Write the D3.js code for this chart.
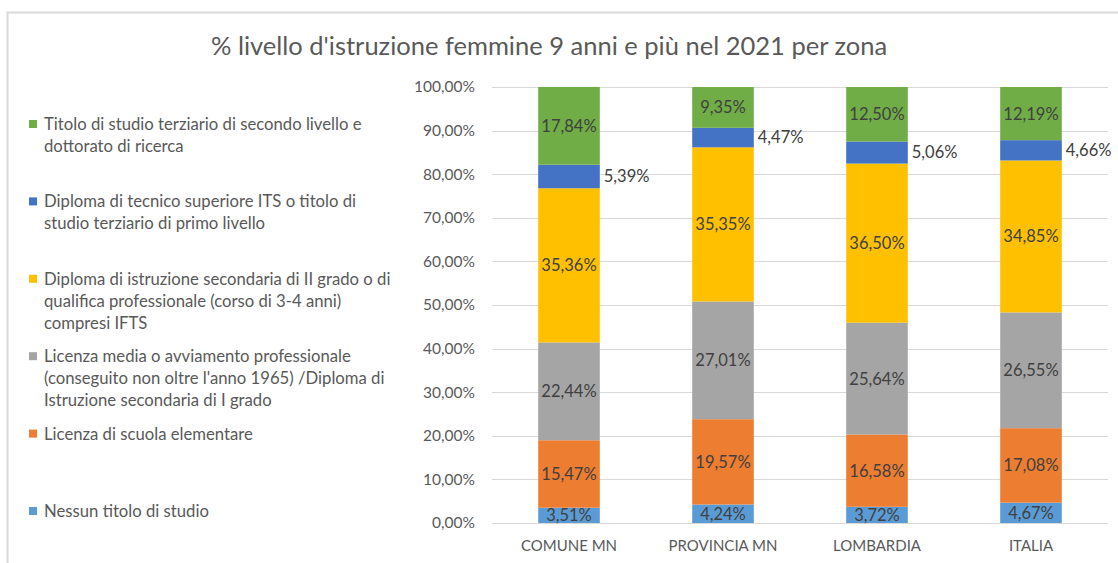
<!DOCTYPE html>
<html>
<head>
<meta charset="utf-8">
<script src="https://cdn.jsdelivr.net/npm/d3@7"></script>
<style>
  html, body { margin: 0; padding: 0; background: #fff; }
  svg { display: block; font-family: Lato, "Open Sans", sans-serif; }
</style>
</head>
<body>
<svg id="chart" width="1118" height="563"></svg>
<script>
// Zones compared
const categories = ["COMUNE MN", "PROVINCIA MN", "LOMBARDIA", "ITALIA"];

// Education levels, bottom to top of each stack
const seriesNames = [
  "Nessun titolo di studio",
  "Licenza di scuola elementare",
  "Licenza media o avviamento professionale (conseguito non oltre l'anno 1965) /Diploma di Istruzione secondaria di I grado",
  "Diploma di istruzione secondaria di II grado o di qualifica professionale (corso di 3-4 anni) compresi IFTS",
  "Diploma di tecnico superiore ITS o titolo di studio terziario di primo livello",
  "Titolo di studio terziario di secondo livello e dottorato di ricerca"
];

// Legend text, wrapped as shown (top entry first)
const legendLines = [
  ["Titolo di studio terziario di secondo livello e", "dottorato di ricerca"],
  ["Diploma di tecnico superiore ITS o titolo di", "studio terziario di primo livello"],
  ["Diploma di istruzione secondaria di II grado o di", "qualifica professionale (corso di 3-4 anni)", "compresi IFTS"],
  ["Licenza media o avviamento professionale", "(conseguito non oltre l'anno 1965) /Diploma di", "Istruzione secondaria di I grado"],
  ["Licenza di scuola elementare"],
  ["Nessun titolo di studio"]
];

// Percent shares per zone, one array per education level
const nessunTitolo   = [3.51, 4.24, 3.72, 4.67];
const elementare     = [15.47, 19.57, 16.58, 17.08];
const media          = [22.44, 27.01, 25.64, 26.55];
const secondaria     = [35.36, 35.35, 36.50, 34.85];
const terziarioPrimo = [5.39, 4.47, 5.06, 4.66];
const terziarioSec   = [17.84, 9.35, 12.50, 12.19];

const yTicks = [0, 10, 20, 30, 40, 50, 60, 70, 80, 90, 100];

const seriesValues = [nessunTitolo, elementare, media, secondaria, terziarioPrimo, terziarioSec];
const colors = ["#5B9BD5", "#ED7D31", "#A5A5A5", "#FFC000", "#4472C4", "#70AD47"];

const svg = d3.select("#chart");
const W = 1118, H = 563;
const plot = { left: 492, right: 1108, top: 87, bottom: 523 };

const fmt = v => d3.format(".2f")(v).replace(".", ",");

// Outer chart frame
svg.append("rect")
  .attr("x", 7.5).attr("y", 12.5)
  .attr("width", W + 20).attr("height", H + 20)
  .attr("fill", "none").attr("stroke", "#d9d9d9").attr("stroke-width", 2);

// Title
svg.append("text")
  .attr("x", 549).attr("y", 55)
  .attr("text-anchor", "middle")
  .attr("fill", "#595959")
  .attr("font-size", 25.5)
  .text("% livello d'istruzione femmine 9 anni e più nel 2021 per zona");

const x = d3.scaleBand()
  .domain(categories)
  .range([plot.left, plot.right])
  .paddingInner(0.6)
  .paddingOuter(0.3);

const y = d3.scaleLinear().domain([0, 100]).range([plot.bottom, plot.top]);

// Gridlines
svg.append("g")
  .selectAll("line")
  .data(yTicks)
  .join("line")
  .attr("x1", plot.left).attr("x2", plot.right)
  .attr("y1", d => Math.round(y(d)) + 0.5).attr("y2", d => Math.round(y(d)) + 0.5)
  .attr("stroke", "#d9d9d9").attr("stroke-width", 1);

// Y axis (labels only)
const yAxis = d3.axisLeft(y)
  .tickValues(yTicks)
  .tickSize(0)
  .tickPadding(0)
  .tickFormat(d => fmt(d) + "%");
const gy = svg.append("g")
  .attr("transform", `translate(${475},0)`)
  .call(yAxis);
gy.select(".domain").remove();
gy.selectAll("text")
  .attr("fill", "#595959")
  .attr("font-size", 15.5)
  .attr("font-family", "Lato, sans-serif");

// X axis (labels only)
const xAxis = d3.axisBottom(x).tickSize(0).tickPadding(0);
const gx = svg.append("g")
  .attr("transform", `translate(0,${540})`)
  .call(xAxis);
gx.select(".domain").remove();
gx.selectAll("text")
  .attr("fill", "#595959")
  .attr("font-size", 15)
  .attr("font-family", "Lato, sans-serif");

// Stack the series
const rows = categories.map((c, i) => {
  const r = { cat: c };
  seriesValues.forEach((s, k) => { r["s" + k] = s[i]; });
  return r;
});
const stack = d3.stack().keys(seriesValues.map((_, k) => "s" + k));
const stacked = stack(rows);

const layers = svg.append("g")
  .selectAll("g")
  .data(stacked)
  .join("g")
  .attr("fill", (d, k) => colors[k]);

layers.selectAll("rect")
  .data(d => d)
  .join("rect")
  .attr("x", d => x(d.data.cat))
  .attr("width", x.bandwidth())
  .attr("y", d => y(d[1]))
  .attr("height", d => y(d[0]) - y(d[1]));

// Value labels: inside the bar, except the thin ITS layer which sits to the right
const labels = svg.append("g")
  .attr("font-size", 16.5)
  .attr("fill", "#404040");
stacked.forEach((layer, k) => {
  const outside = k === 4;
  labels.selectAll(null)
    .data(layer)
    .join("text")
    .attr("x", d => outside ? x(d.data.cat) + x.bandwidth() + 4 : x(d.data.cat) + x.bandwidth() / 2)
    .attr("y", d => y((d[0] + d[1]) / 2))
    .attr("dy", "0.36em")
    .attr("text-anchor", outside ? "start" : "middle")
    .text(d => fmt(d.data["s" + k]) + "%");
});

// Legend, top entry first, equally spaced slots
const legendColors = colors.slice().reverse();
const legend = svg.append("g");
legendLines.forEach((lines, i) => {
  const cy = 124 + i * 77.4;
  legend.append("rect")
    .attr("x", 29).attr("y", cy - 4)
    .attr("width", 8).attr("height", 8)
    .attr("fill", legendColors[i]);
  const t = legend.append("text")
    .attr("x", 44).attr("y", cy)
    .attr("fill", "#595959")
    .attr("font-size", 16.7);
  lines.forEach((ln, j) => {
    t.append("tspan")
      .attr("x", 44)
      .attr("y", cy + j * 22)
      .attr("dy", "0.36em")
      .text(ln);
  });
});
</script>
</body>
</html>
